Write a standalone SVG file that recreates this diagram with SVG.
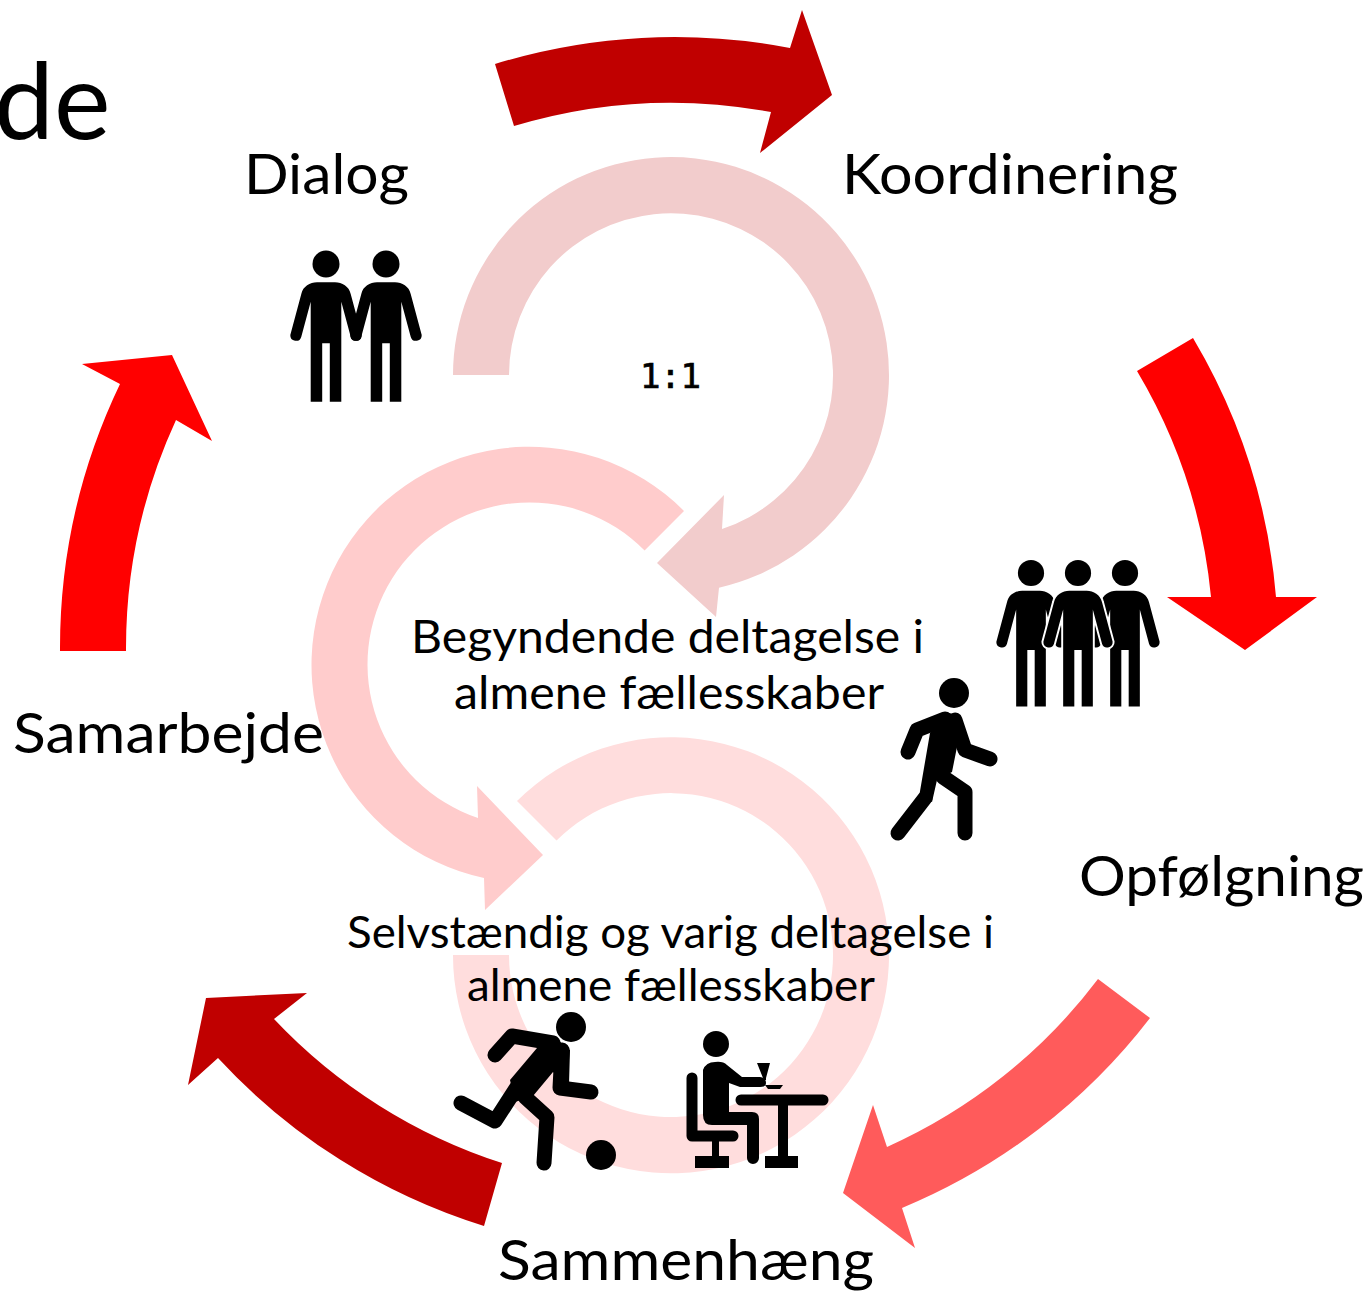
<svg xmlns="http://www.w3.org/2000/svg" width="1371" height="1292" viewBox="0 0 1371 1292">
<style>
text{font-family:"Lato","Open Sans","Liberation Sans",sans-serif;fill:#000}
.lab{font-size:56px}
.sub{font-size:46px}
.limb{fill:none;stroke:#000;stroke-width:15;stroke-linecap:round;stroke-linejoin:round}
</style>
<defs>
<g id="person"><circle cx="0" cy="0" r="13.5"/><path d="M-9,18.2H9C16,18.5 23,22 24.7,30L35.7,71A5.6,5.6 0 0 1 24.7,72.7L15.3,37.7V137.7H3.8V79.3H-3.8V137.7H-15.3V37.7L-24.7,72.7A5.6,5.6 0 0 1 -35.7,71L-24.7,30C-23,22 -16,18.5 -9,18.2Z"/></g>
</defs>
<rect width="1371" height="1292" fill="#fff"/>
<g id="connectors">
<path id="ring-top" fill="#f2cccc" d="M453,375A218,218 0 1 1 719,587.7L716,617L657,563L724,495L722,529A162,162 0 1 0 509,375Z"/>
<path id="ring-bottom" fill="#ffdddd" d="M517,801A218,218 0 1 1 453,955L509,955A162,162 0 1 0 556.5,840.5Z"/>
<path id="ring-middle" fill="#ffcccc" d="M684,511A218,218 0 1 0 484,878L485,910L543,855L477,786L478,818A162,162 0 1 1 644.6,550.4Z"/>
<path id="arrow-top" fill="#c00000" d="M495,64A612,612 0 0 1 790,48L802,10L832,95L760,153L771,112A547,547 0 0 0 514,126Z"/>
<path id="arrow-right" fill="#ff0000" d="M1193,338A608,608 0 0 1 1276,597H1317L1245,650L1167,597H1211A543,543 0 0 0 1137,371Z"/>
<path id="arrow-bottomright" fill="#ff5b5b" d="M1150,1018A604,604 0 0 1 902,1208L915,1248L843,1193L873,1105L887,1147A541,541 0 0 0 1098,979Z"/>
<path id="arrow-bottomleft" fill="#c00000" d="M484,1226A607,607 0 0 1 218,1058L188,1085L206,998L307,993L274,1019A541,541 0 0 0 502,1163Z"/>
<path id="arrow-left" fill="#ff0000" d="M60,651A611,611 0 0 1 120,384L82,364L172,355L212,441L176,420A546,546 0 0 0 126,651Z"/>
</g>
<g id="title"><text x="-6" y="139" style="font-size:107px">de</text></g>
<g id="node-dialog">
<text class="lab" x="244" y="194" textLength="165" lengthAdjust="spacingAndGlyphs">Dialog</text>
<use href="#person" x="326" y="264"/><use href="#person" x="386" y="264"/>
</g>
<g id="node-koordinering"><text class="lab" x="842" y="194" textLength="336" lengthAdjust="spacingAndGlyphs">Koordinering</text></g>
<g id="node-11"><text x="640" y="388" style="font-family:'DejaVu Sans Mono',monospace;font-size:34px;font-weight:400;stroke:#000;stroke-width:.7" textLength="61">1:1</text></g>
<g id="node-opfolgning">
<text class="lab" x="1079" y="896" textLength="285" lengthAdjust="spacingAndGlyphs">Opfølgning</text>
<g transform="translate(1031,573) scale(.97)"><use href="#person"/></g>
<g transform="translate(1125,573) scale(.97)"><use href="#person"/></g>
<g transform="translate(1078,573) scale(.97)" stroke="#fff" stroke-width="4" style="paint-order:stroke"><use href="#person"/></g>
<g id="walker">
<circle cx="954" cy="693" r="15"/>
<path d="M930,733L919,797L932,802L937,780L952,772L957,747L962,722L957,715L945,712Z"/>
<polyline class="limb" points="908,752 917,730 945,719"/>
<polyline class="limb" points="955,720 965,750 990,759"/>
<polyline class="limb" points="943,777 965,792 965,833"/>
<polyline class="limb" points="925,798 898,833"/>
</g>
</g>
<g id="node-samarbejde"><text class="lab" x="13" y="753" textLength="311" lengthAdjust="spacingAndGlyphs">Samarbejde</text></g>
<g id="node-sammenhaeng"><text class="lab" x="498" y="1280" textLength="376" lengthAdjust="spacingAndGlyphs">Sammenhæng</text></g>
<g id="node-begyndende">
<text class="sub" x="411" y="653" textLength="513" lengthAdjust="spacingAndGlyphs">Begyndende deltagelse i</text>
<text class="sub" x="454" y="709" textLength="430" lengthAdjust="spacingAndGlyphs">almene fællesskaber</text>
</g>
<g id="node-selvstaendig">
<text class="sub" x="347" y="948" textLength="647" lengthAdjust="spacingAndGlyphs" style="font-size:44px">Selvstændig og varig deltagelse i</text>
<text class="sub" x="467" y="1001" textLength="408" lengthAdjust="spacingAndGlyphs" style="font-size:44px">almene fællesskaber</text>
<g id="footballer">
<circle cx="571" cy="1027" r="15"/>
<path d="M510,1080L537,1048L553,1036L570,1050L569,1084L553,1072L533,1096L515,1102Z"/>
<polyline class="limb" points="495,1055 512,1036 553,1043"/>
<polyline class="limb" points="562,1050 560,1088 591,1092"/>
<polyline class="limb" points="461,1103 495,1121 517,1087"/>
<polyline class="limb" points="525,1097 547,1117 544,1163"/>
<circle cx="601" cy="1155" r="15"/>
</g>
<g id="sitter">
<circle cx="716" cy="1044" r="13"/>
<path d="M703,1070Q706,1062 715,1062Q723,1061 727,1065L742,1077H760Q766,1078 766,1083Q766,1087 760,1087H740L729,1083V1112H752Q759,1112 759,1119V1158A6,6 0 0 1 747,1158V1125H712Q703,1125 703,1115Z"/>
<polyline class="limb" style="stroke-width:11" points="692,1078 692,1136 733,1136"/>
<rect x="712" y="1140" width="7" height="18"/>
<rect x="695" y="1156" width="34" height="12"/>
<line class="limb" style="stroke-width:11" x1="741" y1="1100" x2="823" y2="1100"/>
<rect x="778" y="1104" width="10" height="54"/>
<rect x="765" y="1156" width="33" height="12"/>
<path d="M757,1063H770L766,1078V1080H764L763,1078Z"/>
<path d="M765,1085H783L780,1089H768Z"/>
</g>
</g>
</svg>
